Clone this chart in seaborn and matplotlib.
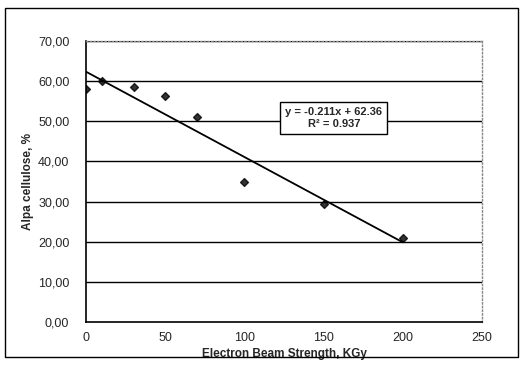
import matplotlib
matplotlib.use("Agg")
import matplotlib.pyplot as plt
import seaborn as sns
import numpy as np
import pandas as pd
from matplotlib.patches import Rectangle

dose = [0, 10, 30, 50, 70, 100, 150, 200]
cellulose = [58.0, 60.0, 58.6, 56.2, 51.1, 34.9, 29.4, 21.0]
y_ticks = [0, 10, 20, 30, 40, 50, 60, 70]
y_tick_labels = ["0,00", "10,00", "20,00", "30,00", "40,00", "50,00", "60,00", "70,00"]
x_ticks = [0, 50, 100, 150, 200, 250]
eq_text = "y = -0.211x + 62.36\nR² = 0.937"

sns.set_style("white")
plt.rcParams['font.family'] = ['Liberation Sans', 'DejaVu Sans']

df = pd.DataFrame({"dose": dose, "cellulose": cellulose})

fig = plt.figure(figsize=(5.22, 3.66), dpi=100)
ax = fig.add_axes([86/522, 1-322/366, (482-86)/522, (322-41)/366])

for yv in y_ticks[1:]:
    ax.axhline(yv, color="black", lw=1.0, zorder=1)

sns.regplot(data=df, x="dose", y="cellulose", ax=ax, ci=None, marker="D",
            scatter_kws=dict(s=16, color="black", zorder=3),
            line_kws=dict(color="black", lw=1.3, zorder=2))

ax.set_xlim(0, 250)
ax.set_ylim(0, 70)
ax.set_xticks(x_ticks)
ax.set_xticklabels([str(v) for v in x_ticks], fontsize=9)
ax.set_yticks(y_ticks)
ax.set_yticklabels(y_tick_labels, fontsize=9)
ax.tick_params(axis="x", direction="in", length=3, pad=7, color="black")
ax.tick_params(axis="y", length=0, pad=12)
ax.set_xlabel("Electron Beam Strength, KGy", fontsize=8.5, fontweight="bold", labelpad=3)
ax.set_ylabel("Alpa cellulose, %", fontsize=8.5, fontweight="bold", labelpad=3)

for side in ["left", "bottom"]:
    ax.spines[side].set_color("black")
    ax.spines[side].set_linewidth(1.2)
for side in ["top", "right"]:
    ax.spines[side].set_color("#888888")
    ax.spines[side].set_linestyle(":")
    ax.spines[side].set_linewidth(1.0)

ax.text(0.626, 0.726, eq_text, transform=ax.transAxes, ha="center", va="center",
        fontsize=8, fontweight="bold", linespacing=1.35,
        bbox=dict(boxstyle="square,pad=0.45", facecolor="white", edgecolor="black", lw=1.0),
        zorder=5)

fig.patches.append(Rectangle((5/522, 1-357/366), 513/522, 349/366, transform=fig.transFigure,
                             fill=False, edgecolor="black", lw=1.0))

fig.savefig("out.png", dpi=100)
